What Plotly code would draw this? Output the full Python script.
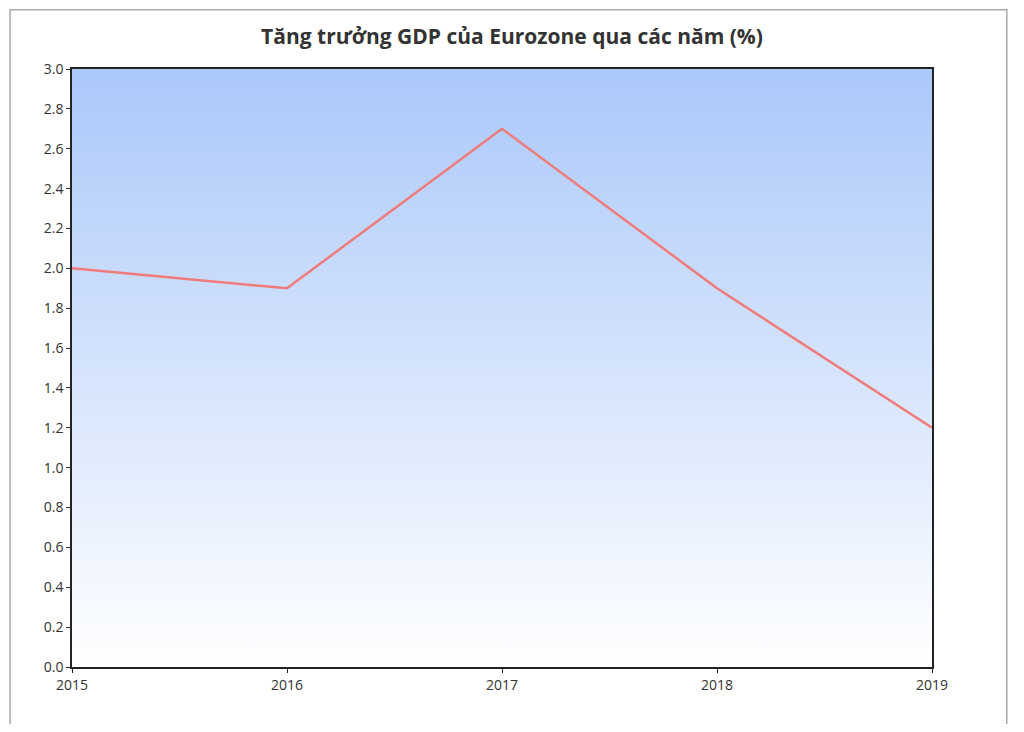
import plotly.graph_objects as go

years = [2015, 2016, 2017, 2018, 2019]
gdp = [2.0, 1.9, 2.7, 1.9, 1.2]
yticks = [round(i * 0.2, 1) for i in range(16)]

fig = go.Figure()
fig.add_trace(go.Scatter(
    x=[2015, 2019], y=[3.0, 3.0], fill='tozeroy', mode='none',
    fillgradient=dict(type='vertical', colorscale=[[0, '#ffffff'], [1, '#abc8fa']]),
    hoverinfo='skip', showlegend=False))
fig.add_trace(go.Scatter(x=years, y=gdp, mode='lines',
                         line=dict(color='#f07b7b', width=2.5), showlegend=False))

shapes = [dict(type='rect', xref='paper', yref='paper', x0=-0.072, x1=1.087, y0=-0.097, y1=1.099,
               line=dict(color='#aaaaaa', width=1.5), layer='below')]
for v in yticks[1:-1]:
    shapes.append(dict(type='line', xref='paper', yref='y', x0=0, x1=1, y0=v, y1=v,
                       line=dict(color='#cccccc', width=1), layer='between'))
for v in years[1:-1]:
    shapes.append(dict(type='line', xref='x', yref='paper', x0=v, x1=v, y0=0, y1=1,
                       line=dict(color='#cccccc', width=1), layer='between'))

fig.update_layout(
    width=1008, height=716, paper_bgcolor='white', plot_bgcolor='white',
    margin=dict(l=64, r=84, t=61, b=57),
    title=dict(text='Tăng trưởng GDP của Eurozone qua các năm (%)', x=0.5, xanchor='center',
               y=0.96, yanchor='middle',
               font=dict(family='Open Sans', size=21, color='#333333', weight='bold')),
    font=dict(family='Open Sans', size=14, color='#333333'),
    shapes=shapes,
)
fig.update_xaxes(range=[2015, 2019], tickvals=years, showgrid=False,
                 showline=True, linecolor='#222222', linewidth=1.5, mirror=True, layer='above traces',
                 ticks='outside', ticklen=4, tickcolor='#222222')
fig.update_yaxes(range=[0, 3.0], tickvals=yticks, tickformat='.1f', showgrid=False,
                 showline=True, linecolor='#222222', linewidth=1.5, mirror=True, layer='above traces',
                 zeroline=False, ticks='outside', ticklen=4, tickcolor='#222222')
fig.write_html('out.html')
